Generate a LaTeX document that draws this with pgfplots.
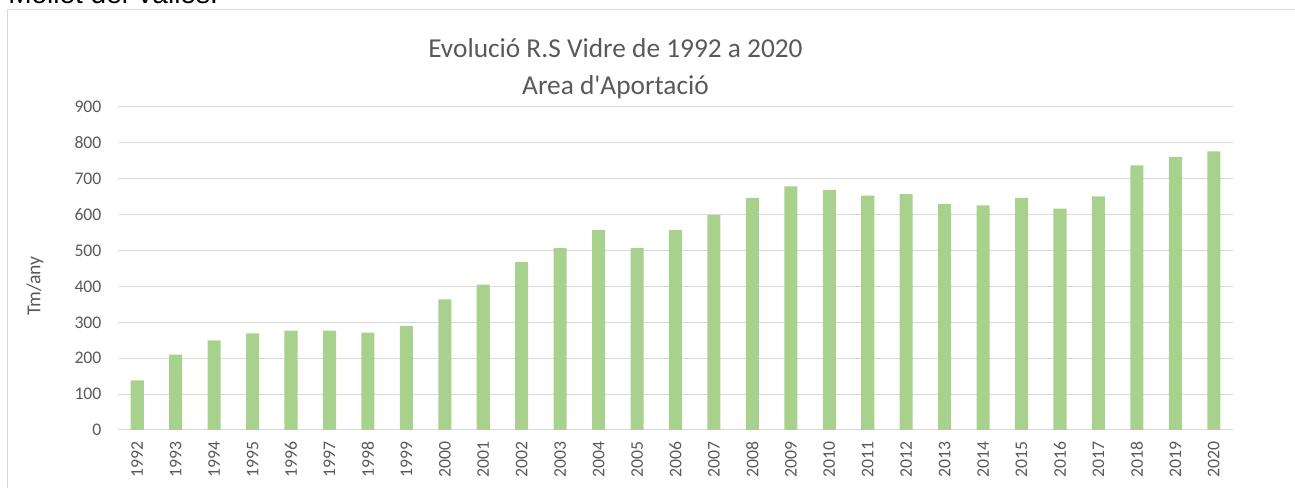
\documentclass[border=0pt]{standalone}
\usepackage{pgfplots}
\pgfplotsset{compat=1.18}
\usepackage{fontspec}
\setmainfont{Carlito}
\newfontfamily\arialfont{Liberation Sans}
\definecolor{barg}{HTML}{A9D18E}
\definecolor{gridc}{HTML}{D9D9D9}
\definecolor{txtg}{HTML}{595959}
\begin{document}
\begin{tikzpicture}
\useasboundingbox (0,0) rectangle (971.25pt,366pt);
\clip (0,0) rectangle (971.25pt,366pt);
% chart area border
\draw[gridc, line width=0.75pt] (5.6pt,-10pt) rectangle (990pt,358.9pt);
% cut-off text above the chart
\node[anchor=base west, inner sep=0pt, font=\arialfont\fontsize{21}{25}\selectfont] at (6pt,363.4pt) {Mollet del Vallès.};
% title
\node[anchor=base, inner sep=0pt, text=txtg, font=\fontsize{20.5}{24}\selectfont] at (461.6pt,322.5pt) {Evolució R.S Vidre de 1992 a 2020};
\node[anchor=base, inner sep=0pt, text=txtg, font=\fontsize{20.5}{24}\selectfont] at (461.6pt,294.75pt) {Area d\textquotesingle Aportació};
% y label
\node[rotate=90, inner sep=0pt, text=txtg, font=\fontsize{14.8}{17}\selectfont] at (26.25pt,151.5pt) {Tm/any};
\begin{axis}[
  at={(88.5pt,43.5pt)}, anchor=south west,
  scale only axis, width=836.25pt, height=242.25pt,
  xmin=-0.5, xmax=28.5, ymin=0, ymax=900,
  ytick={0,100,...,900},
  xtick=data,
  xticklabels={1992,1993,1994,1995,1996,1997,1998,1999,2000,2001,2002,2003,2004,2005,2006,2007,2008,2009,2010,2011,2012,2013,2014,2015,2016,2017,2018,2019,2020},
  axis lines*=left,
  y axis line style={draw=none},
  x axis line style={draw=gridc, line width=0.75pt},
  major tick length=0pt,
  ymajorgrids,
  grid style={draw=gridc, line width=0.75pt},
  /pgf/number format/assume math mode=true,
  yticklabel style={inner sep=0pt, text=txtg, font=\fontsize{13.3}{16}\selectfont},
  xticklabel style={inner sep=0pt, rotate=90, anchor=east, text=txtg, font=\fontsize{13.3}{16}\selectfont},
  yticklabel shift=12.2pt,
  xticklabel shift=8.25pt,
  ybar, bar width=0.34,
]
\addplot[fill=barg, draw=none] coordinates {
(0,138) (1,210) (2,250) (3,269) (4,277) (5,277) (6,271) (7,290)
(8,364) (9,405) (10,468) (11,507) (12,557) (13,507) (14,557) (15,599)
(16,647) (17,679) (18,669) (19,653) (20,657) (21,630) (22,626) (23,647)
(24,617) (25,651) (26,737) (27,761) (28,776)
};
\end{axis}
\end{tikzpicture}
\end{document}
